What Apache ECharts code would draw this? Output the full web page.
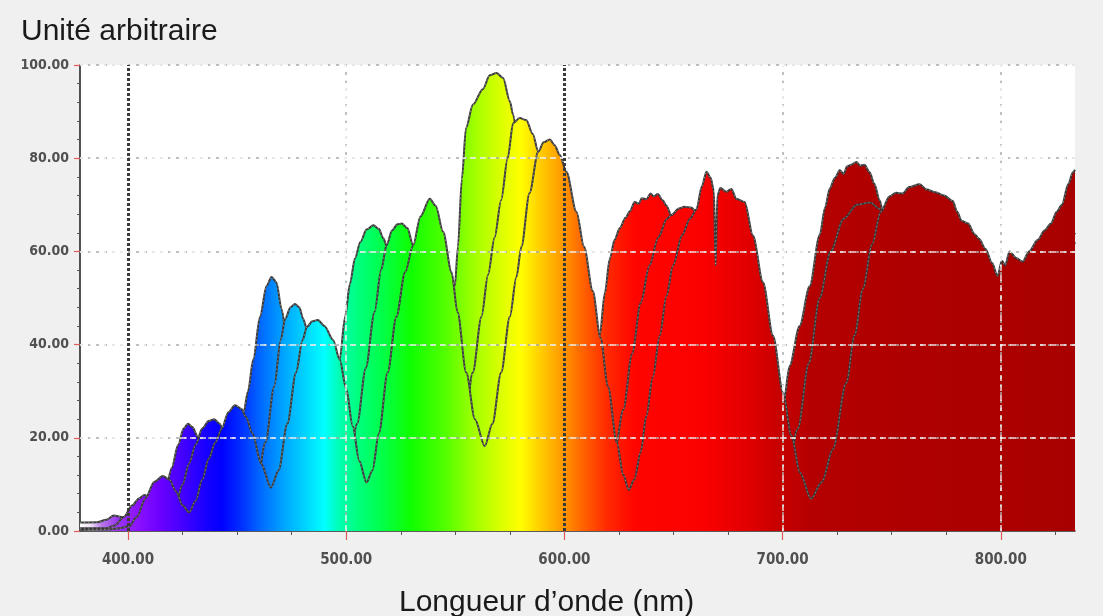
<!DOCTYPE html>
<html>
<head>
<meta charset="utf-8">
<script src="https://cdn.jsdelivr.net/npm/echarts@6/dist/echarts.min.js"></script>
<style>
  html, body { margin: 0; padding: 0; background: #f0f0f0; }
  #chart { width: 1103px; height: 616px; }
</style>
</head>
<body>
<div id="chart"></div>
<script>
// Axis range and tick positions (wavelength in nm, intensity in arbitrary units)
const xRange = [378, 834];
const xTicks = [400, 500, 600, 700, 800];
const xMinorTicks = [425, 450, 475, 525, 550, 575, 625, 650, 675, 725, 750, 775, 825];
const yTicks = [0, 20, 40, 60, 80, 100];
const gridLinesX = [500, 700, 800];
const gridLinesY = [20, 40, 60, 80, 100];
const markerLinesX = [400, 600];

// Three transmission spectra (nm, intensity), from the thinnest to the thickest film
const spectrumA = [
  [378,1.8],[386,1.9],[390,2.4],[393.5,3.3],[397,3],[401,2],[405,1.2],[410,1],[414,3.5],[417,8],
  [420,13.5],[423,18.5],[425.5,22],[427.5,23],[429.5,22.3],[432,20.2],[435,15.5],[438,10],[441,6],
  [444.5,4],[448,8.5],[451,18],[453,25.5],[455,30],[457.4,36.8],[460.5,46],[463.5,52.6],[465.8,54.5],
  [468,53.4],[470.4,47.6],[473,40],[477,27],[481,15],[485,7],[488,6],[491,11],[494,22],[497,36.8],
  [499.5,46],[501.7,53],[504,58.5],[506.5,62],[509.3,64.7],[512.5,65.6],[515,64.8],[517,62.8],
  [518.5,61.3],[521,56],[525,45],[529,32],[533,20],[537,13],[540,12],[543,18],[546.5,33],[549.8,52.6],
  [551.2,61],[553,75.5],[554.9,86.5],[558.1,91.5],[562.6,94.8],[565.8,97.8],[568.9,98.3],[571.9,97.2],
  [575,92.2],[576.5,89.3],[579,82],[583,70],[588,52],[593,34],[598,20],[602,15],[606,19],[610,27],
  [613,34],[616.2,42],[618.5,51],[620.8,58.4],[623,62.5],[625.4,65],[628,67.2],[630,68.6],[632.2,70.6],
  [634,70.2],[635.5,71.4],[637.6,71.2],[639.5,72.4],[641,71.8],[642.8,72.3],[645,71],[646.8,69.8],
  [649,67.7],[652,63],[656,55],[662,43],[668,31],[675,20],[682,13],[688,12],[693,15],[697,20],
  [700.5,27.6],[703.2,35.4],[707.8,44],[712.4,52.5],[717,63.5],[719.5,69.5],[721.6,73.5],[724,75.8],
  [726.2,77.4],[728,76.6],[729.5,78.2],[731.5,78.6],[733.8,79.2],[735.5,78.4],[737.5,78.6],[739.9,77],
  [742,74.5],[744.5,71],[747,66],[752,56],[760,40],[770,26],[780,19],[790,24],[800,35],[812,48],
  [822,56],[834,64]
];
const spectrumB = [
  [378,0.6],[390,0.6],[394,1.2],[398,3],[402,5.5],[405,7],[407.5,7.7],[410,7.2],[413,5.5],[416,4],
  [419,3.5],[422,6],[425,10],[428,14.5],[431,18.5],[434,22],[437,23.6],[439.5,24],[442,23],[445,19.5],
  [448,14],[451,9],[455,6.5],[459,10],[463,19],[467,31],[470,41],[472,45.5],[474.5,48],[476.5,48.7],
  [478.5,48],[480.3,45.5],[482,43.3],[485,36],[489,25],[493,15],[497,10],[501,13],[505,23],[509,35],
  [513,47],[516,56],[518.5,61.3],[521,64.5],[523.5,65.8],[525.5,66],[528,65],[530.7,61.3],[533,55],
  [537,44],[541,33],[545,23],[550,17],[554,22],[558,34],[562,46],[565,55],[568,63],[571,71],[574,80],
  [576.5,87.5],[579.5,88.6],[582.5,88.2],[585.5,85.2],[588,81.4],[591,75],[595,65],[600,52],[605,40],
  [610,28],[615,18],[619,14],[623,17],[627,26],[631,38],[635,49],[639,57],[643,63],[647,67],[649,67.8],
  [652.5,69.2],[655,69.6],[658,69.4],[660.5,68.5],[664,64],[670,52],[677,38],[684,25],[691,14],[697,9],
  [702,12],[707,22],[712,36],[717,50],[722,60],[728,67],[734,70],[740,70.5],[745,69],[750,64],[758,52],
  [768,36],[780,24],[792,22],[805,32],[820,50],[834,62]
];
const spectrumC = [
  [378,0.2],[390,0.3],[396,0.6],[400.5,1],[404,3],[408,7],[412,10.5],[416,11.8],[419,11],[422,8.5],
  [425,5.5],[428,4],[431,6.5],[434,11],[437,15.5],[440,19],[443,22],[446,25.5],[449,27],[452,26.2],
  [454,24.5],[457,21],[461,14.5],[465.5,9.3],[469,13],[473,23],[477,34],[480,41],[482,43.8],[484.5,45],
  [487,45.3],[490,44],[494,41],[497,36.8],[500,30.5],[503,22.5],[506,15],[509.3,10.4],[512,13],[515,21],
  [519,34],[523,46],[527,55.5],[530.7,61.3],[534,67.5],[538.3,71.3],[541,69.8],[544.4,64.2],[548.3,55.5],
  [551,47],[555,34],[559,24],[563.5,18.2],[567,23],[571,34],[575,46],[578,54.5],[580.3,61],[584,72.5],
  [588,81.4],[590.5,83.4],[593.3,84],[595.5,82.8],[597.9,80.7],[600.9,77.1],[605.5,68.5],[609,61],
  [613,51.5],[616.5,41.5],[620,31],[624,19],[627,12],[629.5,8.8],[632,11],[635,17],[637.5,24.6],
  [640.5,33],[643.7,41.9],[646.8,50.5],[649.8,57],[654,63.5],[657.5,67],[660.5,69],[663,74],[665.1,77.1],
  [667,75.8],[668.5,73],[669.3,57],[670.1,72],[671.5,73.6],[674.2,72.8],[676.5,73.4],[678.8,71.3],
  [682.6,70.6],[686.4,63.4],[691,53.4],[695.6,41.9],[700.2,29.7],[704,20.5],[708,12.5],[713,6.9],
  [718,10.5],[723,17.5],[729.2,31.8],[733,42],[736.8,52],[741,61.5],[745,68.5],[749,71.8],[752,72.6],
  [755,72.4],[758,73.8],[762.8,74.4],[766,73.3],[770,72.7],[774,72],[778,70.8],[780,68.5],[782,66.6],
  [785,66],[788,63.7],[790,62.7],[793,60.5],[796,57.5],[798.5,54.7],[800.5,58],[802,57],[804,60],
  [807,58.6],[810,57.8],[813,60],[817,62.5],[820,64.5],[823,66],[825.6,68.5],[828,70],[831,74.5],
  [833,77],[834,77.5]
];

// Visible-spectrum colours by wavelength (nm)
const spectralColors = [
  [378,'#ffffff'],[383,'#efe0f8'],[388,'#b878e8'],[395,'#9a38f0'],[405,'#8a10ff'],[415,'#6a00ff'],
  [425,'#4400ff'],[435,'#1a00ff'],[443,'#0000ff'],[452,'#0030ff'],[462,'#0070ff'],[472,'#00a8ff'],
  [482,'#00d8ff'],[490,'#00ffff'],[497,'#00ffb0'],[505,'#00ff80'],[515,'#00ff50'],[530,'#10ff00'],
  [545,'#50ff00'],[560,'#a8ff00'],[572,'#e0ff00'],[580,'#ffff00'],[590,'#ffc800'],[600,'#ff9400'],
  [610,'#ff5a00'],[620,'#ff2800'],[632,'#ff0500'],[665,'#fa0000'],[685,'#e00000'],[700,'#c40000'],
  [715,'#b40000'],[760,'#ae0000'],[834,'#a80000']
];

const chart = echarts.init(document.getElementById('chart'), null, { renderer: 'canvas' });

function spectralFill() {
  const span = xRange[1] - xRange[0];
  return new echarts.graphic.LinearGradient(0, 0, 1, 0,
    spectralColors.map(([nm, c]) => ({ offset: (nm - xRange[0]) / span, color: c })));
}

// filled spectrum with a dark outline
function spectrumSeries(name, data, z) {
  return {
    type: 'line', name, data, z,
    smooth: 0.3, smoothMonotone: 'x',
    symbol: 'none', silent: true,
    lineStyle: { color: '#3a3a3a', width: 2 },
    areaStyle: { color: spectralFill(), opacity: 1 }
  };
}
// light dotted highlight running along the outline
function outlineHighlight(data, z) {
  return {
    type: 'line', data, z,
    smooth: 0.3, smoothMonotone: 'x',
    symbol: 'none', silent: true,
    lineStyle: { color: 'rgba(255,255,255,0.5)', width: 0.8, type: [1.5, 2.5] }
  };
}

const fmt = v => Number(v).toFixed(2);
const labelFont = { fontFamily: 'DejaVu Sans Condensed', fontWeight: 'bold', color: '#505050' };
const nameFont = { fontFamily: 'Liberation Sans', fontSize: 30, fontWeight: 'normal', color: '#1a1a1a' };

chart.setOption({
  animation: false,
  backgroundColor: '#f0f0f0',
  title: [
    { text: 'Unité arbitraire', left: 16, top: 12, textStyle: nameFont },
    { text: 'Longueur d’onde (nm)', left: 394, top: 583, textStyle: nameFont }
  ],
  grid: { left: 80, right: 28, top: 65, bottom: 85, show: true, backgroundColor: '#ffffff', borderWidth: 0 },
  xAxis: [
    {
      type: 'value', min: xRange[0], max: xRange[1],
      axisLine: { show: true, lineStyle: { color: '#2a2a2a', width: 1.5 } },
      axisTick: { show: true, customValues: xTicks, length: 9, lineStyle: { color: '#e05a5a', width: 1.2 } },
      axisLabel: { customValues: xTicks, formatter: fmt, margin: 22, fontSize: 15, ...labelFont },
      splitLine: { show: false }
    },
    {
      type: 'value', min: xRange[0], max: xRange[1], position: 'bottom',
      axisLine: { show: false },
      axisTick: { show: true, customValues: xMinorTicks, length: 4, lineStyle: { color: '#555', width: 1 } },
      axisLabel: { show: false },
      splitLine: { show: false }
    }
  ],
  yAxis: {
    type: 'value', min: yTicks[0], max: yTicks[yTicks.length - 1], interval: 20,
    axisLine: { show: true, lineStyle: { color: '#1a1a1a', width: 1.5 } },
    axisTick: { show: true, length: 6, lineStyle: { color: '#e05a5a', width: 1.2 } },
    minorTick: { show: true, splitNumber: 5, length: 3, lineStyle: { color: '#555', width: 1 } },
    axisLabel: { formatter: fmt, margin: 11, fontSize: 14, ...labelFont },
    splitLine: { show: false }
  },
  series: [
    // grey dotted grid, visible on the white background only
    {
      type: 'line', data: [], z: 1, silent: true,
      markLine: {
        silent: true, symbol: 'none', label: { show: false }, animation: false,
        lineStyle: { color: '#aaaaaa', type: [3, 5], width: 1.5 },
        data: gridLinesY.map(v => ({ yAxis: v })).concat(gridLinesX.map(v => ({ xAxis: v })))
      }
    },
    spectrumSeries('A', spectrumA, 2),
    outlineHighlight(spectrumA, 2.5),
    spectrumSeries('B', spectrumB, 3),
    outlineHighlight(spectrumB, 3.5),
    spectrumSeries('C', spectrumC, 4),
    outlineHighlight(spectrumC, 4.5),
    // white dashed grid drawn over the coloured fill, and the two dark marker lines
    {
      type: 'line', data: [], z: 10, silent: true,
      markLine: {
        silent: true, symbol: 'none', label: { show: false }, animation: false,
        lineStyle: { color: 'rgba(255,255,255,0.85)', type: [6, 4], width: 1.5 },
        data: gridLinesY.map(v => ({ yAxis: v }))
          .concat(gridLinesX.map(v => ({ xAxis: v })))
          .concat(markerLinesX.map(v => ({ xAxis: v, lineStyle: { color: '#3a3a3a', type: [3, 2], width: 3 } })))
      }
    }
  ]
});
</script>
</body>
</html>
